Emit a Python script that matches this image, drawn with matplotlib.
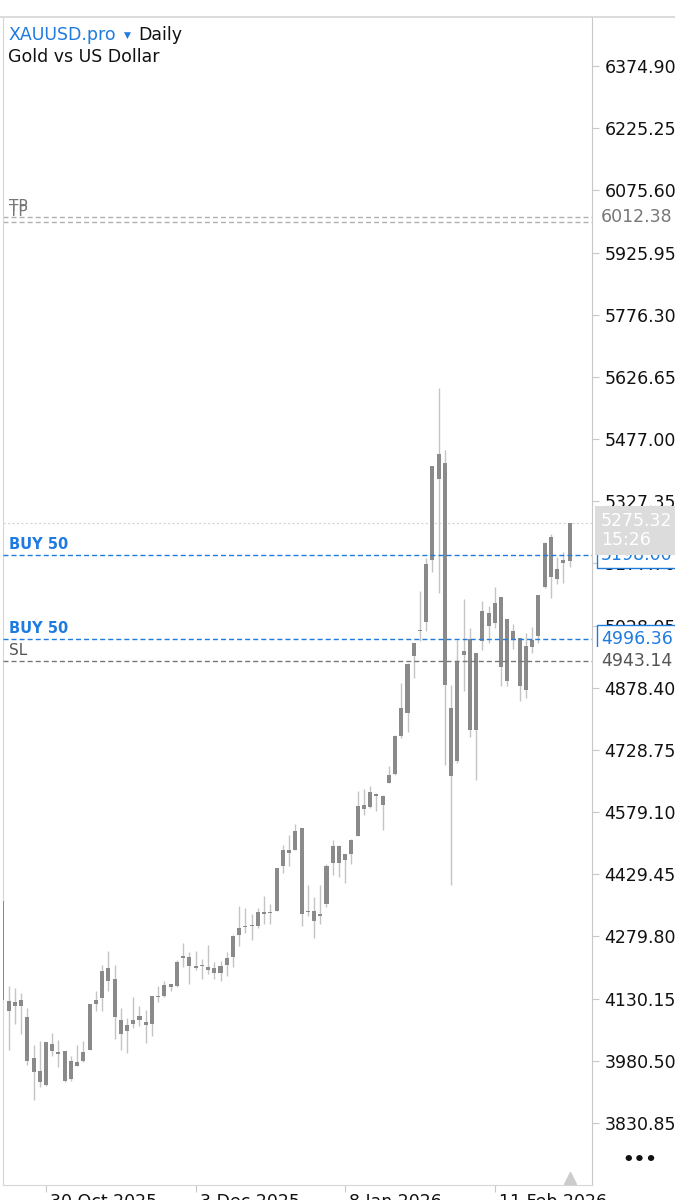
import matplotlib.pyplot as plt
import matplotlib.transforms as mtransforms

# daily candles, 21 Oct 2025 .. 27 Feb 2026 (bar index = trading day)
opens = [4366, 4124, 4112, 4126, 4085, 3987, 3955, 3923, 4021, 4002,
         4005, 3937, 3977, 3979, 4007, 4117, 4132, 4203, 4177, 4079,
         4052, 4070, 4079, 4074, 4069, 4136, 4136, 4165, 4160, 4227,
         4231, 4207, 4208, 4207, 4204, 4193, 4210, 4230, 4284, 4303,
         4304, 4304, 4339, 4336, 4342, 4450, 4489, 4487, 4541, 4339,
         4340, 4328, 4359, 4456, 4497, 4463, 4478, 4522, 4597, 4591,
         4623, 4619, 4649, 4671, 4763, 4817, 4954, 5014, 5036, 5185,
         5441, 5420, 4829, 4703, 4958, 4995, 4777, 4990, 5058, 5034,
         5096, 4894, 5016, 4998, 4874, 4976, 5002, 5121, 5242, 5164,
         5178, 5183]
highs = [4375, 4161, 4156, 4144, 4108, 4019, 4029, 4026, 4047, 4031,
         4005, 3991, 4019, 4027, 4117, 4148, 4212, 4245, 4212, 4108,
         4084, 4133, 4112, 4102, 4137, 4160, 4173, 4165, 4224, 4264,
         4242, 4244, 4226, 4260, 4218, 4220, 4242, 4283, 4353, 4348,
         4335, 4348, 4376, 4359, 4445, 4501, 4525, 4551, 4541, 4404,
         4375, 4403, 4455, 4513, 4501, 4479, 4514, 4631, 4634, 4641,
         4625, 4621, 4689, 4765, 4890, 4937, 4987, 5112, 5190, 5411,
         5599, 5451, 4886, 4994, 5092, 5022, 4963, 5086, 5076, 5120,
         5097, 5044, 5032, 4998, 5010, 5024, 5102, 5229, 5249, 5194,
         5204, 5275.32]
lows = [4005, 4006, 4068, 4046, 3971, 3887, 3918, 3919, 3991, 3966,
        3929, 3931, 3969, 3977, 4006, 4100, 4100, 4148, 4033, 4007,
        3999, 4060, 4064, 4023, 4041, 4121, 4134, 4148, 4158, 4206,
        4165, 4198, 4177, 4189, 4177, 4172, 4184, 4206, 4258, 4288,
        4272, 4300, 4310, 4310, 4340, 4432, 4449, 4487, 4304, 4328,
        4276, 4310, 4351, 4428, 4423, 4408, 4455, 4522, 4571, 4590,
        4582, 4537, 4649, 4669, 4757, 4773, 4902, 4990, 5014, 5158,
        5106, 4693, 4404, 4697, 4870, 4761, 4657, 4970, 4986, 5022,
        4882, 4882, 4971, 4846, 4854, 4963, 4986, 5118, 5094, 5129,
        5130, 5169]
closes = [4128, 4101, 4122, 4113, 3981, 3953, 3930, 4025, 4003, 3996,
          3933, 3979, 3969, 4002, 4117, 4127, 4196, 4172, 4085, 4046,
          4067, 4078, 4089, 4066, 4137, 4133, 4163, 4158, 4219, 4233,
          4209, 4205, 4210, 4198, 4191, 4209, 4228, 4282, 4300, 4306,
          4308, 4339, 4335, 4339, 4444, 4489, 4481, 4533, 4334, 4342,
          4318, 4334, 4449, 4497, 4457, 4478, 4511, 4593, 4587, 4627,
          4617, 4597, 4669, 4763, 4829, 4936, 4986, 5017, 5177, 5411,
          5380, 4886, 4665, 4943, 4968, 4777, 4963, 5064, 5026, 5082,
          4928, 5044, 4995, 4882, 4978, 4994, 5102, 5228, 5146, 5140,
          5185, 5275.32]

date_ticks = [7, 31, 55, 79]
date_labels = ['30 Oct 2025', '3 Dec 2025', '8 Jan 2026', '11 Feb 2026']
price_ticks = [6374.90, 6225.25, 6075.60, 5925.95, 5776.30, 5626.65,
               5477.00, 5327.35, 5177.70, 5028.05, 4878.40, 4728.75,
               4579.10, 4429.45, 4279.80, 4130.15, 3980.50, 3830.85]

tp_levels = [6012.38, 5998.70]
buy_levels = [5198.00, 4996.36]
sl_level = 4943.14
last_price = 5275.32
bar_timer = '15:26'

BLUE = '#1f7be0'
plt.rcParams['font.family'] = ['DejaVu Sans']

fig = plt.figure(figsize=(6.75, 12), dpi=100)
ax = fig.add_axes([3 / 675, 15 / 1200, 589 / 675, 1168 / 1200])

# candles
idx = list(range(len(opens)))
ax.vlines(idx, lows, highs, color='#c4c4c4', lw=1, zorder=2)
bottoms = [min(o, c) for o, c in zip(opens, closes)]
heights = [max(abs(c - o), 2.5) for o, c in zip(opens, closes)]
ax.bar(idx, heights, bottom=bottoms, width=0.65, color='#8a8a8a', zorder=3)

ax.set_xlim(0.1, 94.6)
ax.set_ylim(3681.6, 6492.8)

# horizontal levels
ax.axhline(last_price, color='#d4d4d4', lw=0.8, dashes=(2, 2), zorder=1)
for lv in tp_levels:
    ax.axhline(lv, color='#b0b0b0', lw=1, dashes=(3.6, 2.2), zorder=1)
for lv in buy_levels:
    ax.axhline(lv, color=BLUE, lw=1, dashes=(3.6, 2.2), zorder=4)
ax.axhline(sl_level, color='#777777', lw=1, dashes=(3.6, 2.2), zorder=4)

# right axis
ax.yaxis.tick_right()
ax.set_yticks(price_ticks)
ax.set_yticklabels([f'{v:.2f}' for v in price_ticks])
ax.tick_params(axis='y', length=5, color='#c8c8c8', pad=4,
               labelsize=12.5, labelcolor='#111111')

ax.set_xticks(date_ticks)
ax.set_xticklabels(date_labels)
ax.tick_params(axis='x', length=5, color='#c8c8c8', pad=0.5,
               labelsize=12.5, labelcolor='#111111')
shift = mtransforms.ScaledTranslation(4 / 100, 0, fig.dpi_scale_trans)
for lab in ax.get_xticklabels():
    lab.set_horizontalalignment('left')
    lab.set_transform(lab.get_transform() + shift)

for side in ['left', 'top', 'bottom']:
    ax.spines[side].set_color('#d6d6d6')
ax.spines['right'].set_color('#c8c8c8')
ax.spines['top'].set_visible(False)

# labels on the price scale
rtrans = mtransforms.blended_transform_factory(ax.transAxes, ax.transData)
rshift = mtransforms.ScaledTranslation(9 / 100, 0, fig.dpi_scale_trans)
ax.text(1, tp_levels[1], f'{tp_levels[1]:.2f}', transform=rtrans + rshift,
        va='center', ha='left', fontsize=12.5, color='#888888', clip_on=False,
        zorder=5)
ax.text(1, tp_levels[0], f'{tp_levels[0]:.2f}', transform=rtrans + rshift,
        va='center', ha='left', fontsize=12.5, color='#777777', clip_on=False,
        zorder=6, bbox=dict(boxstyle='square,pad=0.3', fc='white', ec='none'))
for lv in buy_levels:
    ax.text(1, lv, f'{lv:.2f}', transform=rtrans + rshift, va='center',
            ha='left', fontsize=12.5, color=BLUE, clip_on=False, zorder=6,
            bbox=dict(boxstyle='square,pad=0.25', fc='white', ec=BLUE, lw=1))
ax.text(1, sl_level, f'{sl_level:.2f}', transform=rtrans + rshift,
        va='center', ha='left', fontsize=12.5, color='#555555', clip_on=False,
        zorder=6, bbox=dict(boxstyle='square,pad=0.3', fc='white', ec='none'))
up = mtransforms.ScaledTranslation(0, 11 / 100, fig.dpi_scale_trans)
ax.text(1, last_price, f'{last_price:.2f}\n{bar_timer}',
        transform=rtrans + rshift + up, va='top', ha='left', fontsize=12.5,
        color='white', linespacing=1.1, clip_on=False, zorder=7,
        bbox=dict(boxstyle='square,pad=0.35', fc='#dcdcdc', ec='none'))

# labels on the left
lshift = mtransforms.ScaledTranslation(6 / 100, 3 / 100, fig.dpi_scale_trans)
for lv in buy_levels:
    ax.text(0, lv, 'BUY 50', transform=rtrans + lshift, va='bottom',
            ha='left', fontsize=10.5, fontweight='bold', color=BLUE, zorder=6)
ax.text(0, sl_level, 'SL', transform=rtrans + lshift, va='bottom',
        ha='left', fontsize=11, color='#555555', zorder=6)
for lv in tp_levels:
    ax.text(0, lv, 'TP', transform=rtrans + lshift, va='bottom',
            ha='left', fontsize=11, color='#777777', zorder=6)

# bottom marker at the last bar
btrans = mtransforms.blended_transform_factory(ax.transData, ax.transAxes)
ax.plot([idx[-1]], [0.006], marker='^', ms=9, color='#cccccc',
        transform=btrans, clip_on=False, zorder=5)

# header
fig.add_artist(plt.Line2D([0, 1], [1 - 17 / 1200] * 2, color='#d6d6d6',
                          lw=1.2))
fig.text(8 / 675, 1 - 35 / 1200, 'XAUUSD.pro', color=BLUE, fontsize=12.5,
         va='center', ha='left')
fig.text(124 / 675, 1 - 35 / 1200, '▼', color=BLUE, fontsize=6.5,
         va='center', ha='left')
fig.text(138 / 675, 1 - 35 / 1200, 'Daily', color='#111111', fontsize=12.5,
         va='center', ha='left')
fig.text(8 / 675, 1 - 57 / 1200, 'Gold vs US Dollar', color='#111111',
         fontsize=12.5, va='center', ha='left')
fig.text(640 / 675, 1 - 1160 / 1200, '•••', color='#111111', fontsize=13,
         fontweight='bold', va='center', ha='center')

fig.savefig('out.png', dpi=100)
